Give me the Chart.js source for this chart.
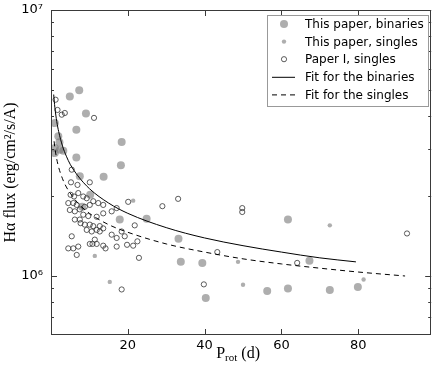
<!DOCTYPE html>
<html>
<head>
<meta charset="utf-8">
<script src="https://cdn.jsdelivr.net/npm/chart.js"></script>
<style>
html,body{margin:0;padding:0;background:#fff;}
</style>
</head>
<body>
<canvas id="c" width="436" height="369"></canvas>
<script>
// this paper, binaries (big grey dots)
const binX = [7.35, 4.9, 9.1, 1.0, 6.6, 1.9, 2.2, 18.4, 1.0, 2.3, 3.2, 1.0, 6.6, 18.2, 7.5, 13.7, 10.2, 8.1, 17.9, 24.9, 33.2, 61.7, 39.4, 33.8, 67.3, 40.3, 56.3, 61.7, 72.6, 79.9];
const binY = [4.99e6, 4.73e6, 4.08e6, 3.76e6, 3.55e6, 3.35e6, 3.18e6, 3.19e6, 3.03e6, 2.98e6, 2.96e6, 2.90e6, 2.79e6, 2.61e6, 2.37e6, 2.36e6, 2.02e6, 1.82e6, 1.63e6, 1.64e6, 1.38e6, 1.63e6, 1.12e6, 1.13e6, 1.14e6, 8.27e5, 8.78e5, 8.98e5, 8.86e5, 9.1e5];

// this paper, singles (small grey dots)
const sinX = [21.4, 72.6, 48.7, 11.4, 15.3, 50.0, 81.4];
const sinY = [1.92e6, 1.55e6, 1.13e6, 1.19e6, 9.5e5, 9.27e5, 9.7e5];

// paper I, singles (open circles)
const p1X = [1.2, 1.7, 2.8, 3.6, 11.2, 5.4, 5.2, 6.9, 10.1,
  5.1, 6.0, 7.1, 8.4, 9.3, 4.5, 5.8, 6.7, 4.9, 6.2, 7.5, 8.8, 10.1, 11.0, 12.3, 13.6, 15.8, 17.1, 20.1,
  6.2, 7.5, 8.4, 9.7, 11.9, 13.6, 7.7, 8.8, 10.1, 11.0, 12.7, 13.6, 9.3, 10.6, 11.9, 12.7,
  5.4, 4.5, 5.8, 7.1, 6.7, 11.4, 10.1, 10.8, 11.9, 13.6, 14.2, 15.8, 17.1, 18.4, 19.2, 17.1, 19.8, 21.4,
  21.8, 29.0, 33.1, 22.5, 22.9, 18.4, 39.8, 43.3, 49.8, 49.8, 64.1, 92.7];
const p1Y = [4.6e6, 4.21e6, 4.04e6, 4.1e6, 3.93e6, 2.51e6, 2.25e6, 2.2e6, 2.25e6,
  2.02e6, 1.99e6, 2.05e6, 1.99e6, 1.96e6, 1.88e6, 1.88e6, 1.85e6, 1.77e6, 1.75e6, 1.78e6, 1.82e6, 1.85e6, 1.91e6, 1.88e6, 1.85e6, 1.75e6, 1.80e6, 1.90e6,
  1.63e6, 1.63e6, 1.70e6, 1.68e6, 1.67e6, 1.72e6, 1.58e6, 1.56e6, 1.56e6, 1.54e6, 1.54e6, 1.51e6, 1.49e6, 1.47e6, 1.49e6, 1.47e6,
  1.41e6, 1.27e6, 1.27e6, 1.29e6, 1.20e6, 1.37e6, 1.32e6, 1.32e6, 1.32e6, 1.30e6, 1.27e6, 1.43e6, 1.39e6, 1.47e6, 1.41e6, 1.29e6, 1.31e6, 1.30e6,
  1.55e6, 1.83e6, 1.95e6, 1.35e6, 1.17e6, 8.9e5, 9.3e5, 1.23e6, 1.80e6, 1.74e6, 1.12e6, 1.445e6];

// fit curves
const fitBinX = [0.7, 1, 1.5, 2, 3, 4, 5, 7, 10, 15, 20, 30, 40, 50, 60, 70, 79.4];
const fitBinY = [4.81e6, 4.31e6, 3.81e6, 3.49e6, 3.08e6, 2.82e6, 2.63e6, 2.38e6, 2.13e6, 1.88e6, 1.72e6, 1.52e6, 1.39e6, 1.30e6, 1.23e6, 1.17e6, 1.13e6];
const fitSinX = [0.8, 1, 1.5, 2, 3, 4, 5, 7, 10, 15, 20, 30, 40, 50, 60, 70, 80, 92.2];
const fitSinY = [3.21e6, 3.04e6, 2.75e6, 2.56e6, 2.32e6, 2.16e6, 2.05e6, 1.88e6, 1.72e6, 1.56e6, 1.46e6, 1.32e6, 1.23e6, 1.16e6, 1.11e6, 1.07e6, 1.035e6, 1.0e6];

const xTicks = [20, 40, 60, 80];
const yMajor = [1e6, 1e7];
const yMajorLabels = ['10\u2076', '10\u2077'];
const yMinor = [7e5, 8e5, 9e5, 2e6, 3e6, 4e6, 5e6, 6e6, 7e6, 8e6, 9e6];

const pts = (xs, ys) => xs.map((x, i) => ({x, y: ys[i]}));

const GREY = 'rgba(120,120,120,0.6)';

const frame = {
  id: 'frame',
  afterDatasetsDraw(chart){
    const {ctx, chartArea: a, scales: {x, y}} = chart;
    ctx.save();
    ctx.strokeStyle = '#3a3a3a'; ctx.lineWidth = 1;
    ctx.beginPath();
    x.ticks.forEach(t => {
      const px = Math.round(x.getPixelForValue(t.value)) + 0.5;
      ctx.moveTo(px, a.bottom); ctx.lineTo(px, a.bottom - 6);
      ctx.moveTo(px, a.top); ctx.lineTo(px, a.top + 6);
    });
    y.ticks.forEach(t => {
      const len = yMajor.includes(t.value) ? 6 : 3;
      const py = Math.round(y.getPixelForValue(t.value)) + 0.5;
      ctx.moveTo(a.left, py); ctx.lineTo(a.left + len, py);
      ctx.moveTo(a.right, py); ctx.lineTo(a.right - len, py);
    });
    ctx.stroke();
    const l = Math.round(a.left) + 0.5, t = Math.round(a.top) + 0.5, r = Math.round(a.right) - 0.5, b = Math.round(a.bottom) - 0.5;
    ctx.strokeRect(l, t, r - l, b - t);
    ctx.restore();
  },
  afterDraw(chart){
    const {ctx, chartArea: a} = chart;
    ctx.save();
    // axis titles
    ctx.fillStyle = '#000';
    const big = '16px "Liberation Serif"', sub = '11px "Liberation Serif"';
    ctx.font = big; const wP = ctx.measureText('P').width, wD = ctx.measureText(' (d)').width;
    ctx.font = sub; const wR = ctx.measureText('rot').width;
    let sx = (a.left + a.right) / 2 - 3 - (wP + wR + wD) / 2, sy = 358;
    ctx.textAlign = 'left'; ctx.textBaseline = 'alphabetic';
    ctx.font = big; ctx.fillText('P', sx, sy);
    ctx.font = sub; ctx.fillText('rot', sx + wP, sy + 3);
    ctx.font = big; ctx.fillText(' (d)', sx + wP + wR, sy);

    ctx.translate(11, (a.top + a.bottom) / 2);
    ctx.rotate(-Math.PI / 2);
    ctx.textAlign = 'center'; ctx.textBaseline = 'middle';
    ctx.font = big;
    ctx.fillText('H\u03b1 flux (erg/cm\u00b2/s/A)', 0, 0);
    ctx.restore();

    // legend box
    ctx.save();
    const bx = Math.round(a.right) - 164, by = Math.round(a.top) + 5, bw = 161, bh = 91;
    ctx.fillStyle = '#fff'; ctx.fillRect(bx, by, bw, bh);
    ctx.strokeStyle = '#999'; ctx.lineWidth = 1;
    ctx.strokeRect(bx + 0.5, by + 0.5, bw, bh);
    ctx.font = '12px "DejaVu Sans"'; ctx.textBaseline = 'middle'; ctx.textAlign = 'left';
    chart.data.datasets.forEach((d, i) => {
      const cy = by + 9 + i * 17.6, mx = bx + 17;
      ctx.save();
      if (d.type === 'line') {
        ctx.strokeStyle = '#000'; ctx.lineWidth = 1;
        ctx.setLineDash(d.borderDash || []);
        ctx.beginPath(); ctx.moveTo(bx + 5, cy + 0.5); ctx.lineTo(bx + 28, cy + 0.5); ctx.stroke();
      } else {
        ctx.beginPath(); ctx.arc(mx, cy, d.pointRadius, 0, Math.PI * 2);
        if (d.backgroundColor !== 'transparent') { ctx.fillStyle = d.backgroundColor; ctx.fill(); }
        if (d.borderWidth) { ctx.strokeStyle = d.borderColor; ctx.lineWidth = d.borderWidth; ctx.stroke(); }
      }
      ctx.restore();
      ctx.fillStyle = '#000';
      ctx.fillText(d.label, bx + 38, cy + 1);
    });
    ctx.restore();
  }
};

new Chart(document.getElementById('c'), {
  type: 'scatter',
  data: {
    datasets: [
      {label: 'This paper, binaries', data: pts(binX, binY), backgroundColor: GREY, borderWidth: 0, pointRadius: 4, order: 5},
      {label: 'This paper, singles', data: pts(sinX, sinY), backgroundColor: GREY, borderWidth: 0, pointRadius: 2.2, order: 4},
      {label: 'Paper I, singles', data: pts(p1X, p1Y), backgroundColor: 'transparent', borderColor: '#333', borderWidth: 0.8, pointRadius: 2.6, order: 3},
      {label: 'Fit for the binaries', type: 'line', data: pts(fitBinX, fitBinY), borderColor: '#000', borderWidth: 1, pointRadius: 0, cubicInterpolationMode: 'monotone', fill: false, order: 2},
      {label: 'Fit for the singles', type: 'line', data: pts(fitSinX, fitSinY), borderColor: '#000', borderWidth: 1, borderDash: [5, 4], pointRadius: 0, cubicInterpolationMode: 'monotone', fill: false, order: 1}
    ]
  },
  options: {
    responsive: false,
    animation: false,
    events: [],
    layout: {padding: {left: 0, right: 2, top: 10, bottom: 0}},
    plugins: {legend: {display: false}, tooltip: {enabled: false}},
    scales: {
      x: {
        type: 'linear', min: 0, max: 99,
        grid: {display: false, drawTicks: false, tickLength: 0}, border: {display: false},
        afterBuildTicks: s => { s.ticks = xTicks.map(v => ({value: v})); },
        afterFit: s => { s.height = 34; s.paddingLeft = 0; s.paddingRight = 0; },
        ticks: {autoSkip: false, maxRotation: 0, padding: 3, color: '#000', font: {family: 'DejaVu Sans', size: 13}}
      },
      y: {
        type: 'logarithmic', min: 6e5, max: 1e7,
        grid: {display: false, drawTicks: false, tickLength: 0}, border: {display: false},
        afterBuildTicks: s => { s.ticks = yMajor.concat(yMinor).sort((a, b) => a - b).map(v => ({value: v, major: yMajor.includes(v)})); },
        afterFit: s => { s.width = 51; s.paddingTop = 0; s.paddingBottom = 0; },
        ticks: {
          autoSkip: false, padding: 8, color: '#000', font: {family: 'DejaVu Sans', size: 13},
          callback: v => { const k = yMajor.indexOf(v); return k >= 0 ? yMajorLabels[k] : ''; }
        }
      }
    }
  },
  plugins: [frame]
});
</script>
</body>
</html>
